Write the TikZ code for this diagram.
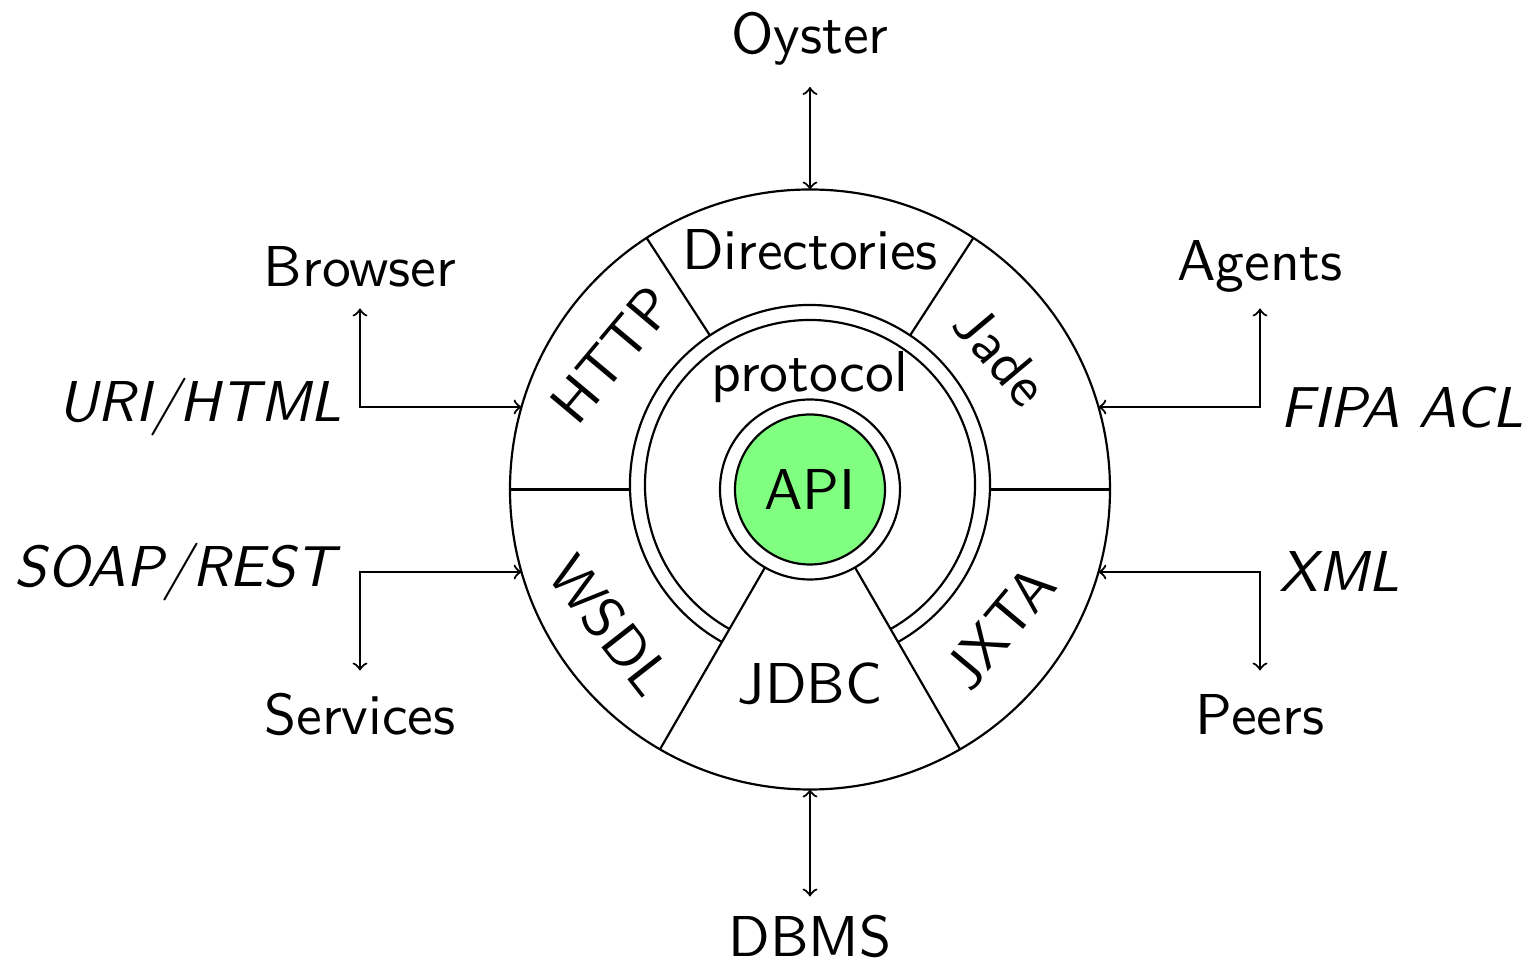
\documentclass[tikz,border=0pt]{standalone}
\usepackage{fontspec}
\begin{document}
\begin{tikzpicture}[x=0.01cm,y=0.01cm,line width=0.62pt,
  lbl/.style={font=\sffamily\fontsize{10}{12}\selectfont, inner sep=0pt, scale=1.64},
  ilbl/.style={font=\sffamily\itshape\fontsize{10}{12}\selectfont, inner sep=0pt, scale=1.64},
  conn/.style={<->}]
\useasboundingbox (-810,-474.5) rectangle (720,489.5);
% outer circle
\draw (0,0) circle[radius=300];
% protocol double ring (cut by the JDBC sector)
\draw ([shift={(0,4.5)}]-60.75:180) arc[start angle=-60.75,end angle=240.75,radius=180];
\draw ([shift={(0,4.5)}]-60.8:165) arc[start angle=-60.8,end angle=240.8,radius=165];
% dividers
\draw (123:184) -- (123:300);
\draw (57:184) -- (57:300);
\draw (-300,0) -- (-180,0);
\draw (180,0) -- (300,0);
\draw (-120:90) -- (-120:300);
\draw (-60:90) -- (-60:300);
% API
\draw (0,0) circle[radius=90];
\draw[fill=green!50] (0,0) circle[radius=75];
\node[lbl] (api) at (0,0) {API};
% sector labels
\node[lbl,anchor=base] (dir) at (0,220.2) {Directories};
\node[lbl,anchor=base] (prot) at (0,97.5) {protocol};
\node[lbl,rotate=50] (http) at (-198,135) {HTTP};
\node[lbl,rotate=-50] (jade) at (191,134) {Jade};
\node[lbl,rotate=-52] (wsdl) at (-200,-136) {WSDL};
\node[lbl,rotate=50] (jxta) at (190,-138) {JXTA};
\node[lbl] (jdbc) at (0,-193.8) {JDBC};
% outer labels
\node[lbl,anchor=base] (oyster) at (0,436.2) {Oyster};
\node[lbl,anchor=base] (dbms) at (0,-466.5) {DBMS};
\node[lbl,anchor=base] (browser) at (-450,202.5) {Browser};
\node[lbl,anchor=base] (services) at (-450,-245.5) {Services};
\node[lbl,anchor=base] (agents) at (450,208.5) {Agents};
\node[lbl,anchor=base] (peers) at (450,-245.5) {Peers};
\node[ilbl,anchor=base] (uri) at (-610,67.5) {URI/HTML};
\node[ilbl,anchor=base] (soap) at (-635,-97.5) {SOAP/REST};
\node[ilbl,anchor=base] (fipa) at (592,61.5) {FIPA ACL};
\node[ilbl,anchor=base] (xml) at (530,-102.5) {XML};
% connector end points
\coordinate (cT) at (90:300);
\coordinate (cB) at (-90:300);
\coordinate (cUL) at (164.04:300);
\coordinate (cLL) at (195.96:300);
\coordinate (cUR) at (15.96:300);
\coordinate (cLR) at (-15.96:300);
\coordinate (eO) at (0,402.5);
\coordinate (eD) at (0,-407);
\coordinate (eB) at (-450,181);
\coordinate (eS) at (-450,-181);
\coordinate (eA) at (450,181);
\coordinate (eP) at (450,-181);
% connectors
\draw[conn] (eO) -- (cT);
\draw[conn] (cB) -- (eD);
\draw[conn] (eB) |- (cUL);
\draw[conn] (eS) |- (cLL);
\draw[conn] (eA) |- (cUR);
\draw[conn] (eP) |- (cLR);
\end{tikzpicture}
\end{document}
